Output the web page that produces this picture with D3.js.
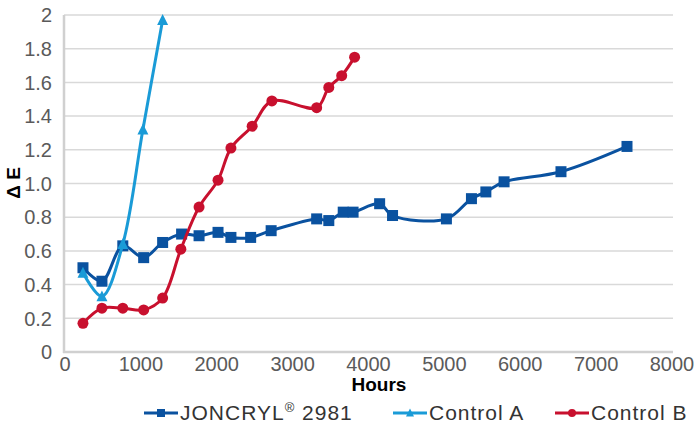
<!DOCTYPE html>
<html>
<head>
<meta charset="utf-8">
<script src="https://cdn.jsdelivr.net/npm/d3@7"></script>
<style>
  body { margin: 0; background: #fff; }
  svg { display: block; font-family: 'Liberation Sans', Arial, sans-serif; }
</style>
</head>
<body>
<div id="chart"></div>
<script>
const width = 696
const height = 427

const yTicks = [0, 0.2, 0.4, 0.6, 0.8, 1.0, 1.2, 1.4, 1.6, 1.8, 2]
const xTicks = [0, 1000, 2000, 3000, 4000, 5000, 6000, 7000, 8000]

const joncrylHours = [250, 500, 775, 1050, 1300, 1550, 1780, 2030, 2200, 2460, 2730, 3330, 3490, 3680, 3810, 4160, 4330, 5040, 5370, 5560, 5800, 6550, 7420]
const joncrylDE = [0.50, 0.42, 0.63, 0.56, 0.65, 0.70, 0.69, 0.71, 0.68, 0.68, 0.72, 0.79, 0.78, 0.83, 0.83, 0.88, 0.81, 0.79, 0.91, 0.95, 1.01, 1.07, 1.22]

const controlAHours = [250, 500, 775, 1040, 1300]
const controlADE = [0.47, 0.33, 0.64, 1.32, 1.97]

const controlBHours = [250, 500, 775, 1050, 1300, 1540, 1780, 2030, 2200, 2480, 2740, 3330, 3490, 3660, 3830]
const controlBDE = [0.17, 0.26, 0.26, 0.25, 0.32, 0.61, 0.86, 1.02, 1.21, 1.34, 1.49, 1.45, 1.57, 1.64, 1.75]

const series = [
  { name: 'JONCRYL', sup: '®', rest: ' 2981', hours: joncrylHours, values: joncrylDE, color: '#0a52a0', marker: 'square', legendX: 144 },
  { name: 'Control A', hours: controlAHours, values: controlADE, color: '#1a9bd7', marker: 'triangle', legendX: 393 },
  { name: 'Control B', hours: controlBHours, values: controlBDE, color: '#c8102e', marker: 'circle', legendX: 555 }
]

const x = d3.scaleLinear().domain([0, 8000]).range([64, 671])
const y = d3.scaleLinear().domain([0, 2]).range([352, 15])

const svg = d3.select('#chart')
  .append('svg')
  .attr('width', width)
  .attr('height', height)

// gridlines
svg.append('g')
  .selectAll('line')
  .data(yTicks.filter(d => d > 0))
  .enter()
  .append('line')
  .attr('x1', 64)
  .attr('x2', 673)
  .attr('y1', d => y(d))
  .attr('y2', d => y(d))
  .style('stroke', '#d9d9d9')
  .style('stroke-width', 1.5)

// axis lines
svg.append('line')
  .attr('x1', 64).attr('x2', 64)
  .attr('y1', y(2)).attr('y2', y(0) + 1)
  .style('stroke', '#d0d0d0').style('stroke-width', 2.5)
svg.append('line')
  .attr('x1', 63).attr('x2', 673)
  .attr('y1', y(0)).attr('y2', y(0))
  .style('stroke', '#d0d0d0').style('stroke-width', 2.5)

// tick labels
svg.append('g')
  .selectAll('text')
  .data(yTicks)
  .enter()
  .append('text')
  .attr('x', 52)
  .attr('y', d => y(d))
  .attr('dy', '0.36em')
  .attr('text-anchor', 'end')
  .style('font-size', '20px')
  .style('fill', '#5a5a5a')
  .text(d => (d === 0 || d === 2) ? d : d.toFixed(1))

svg.append('g')
  .selectAll('text')
  .data(xTicks)
  .enter()
  .append('text')
  .attr('x', d => x(d) + 1)
  .attr('y', 371)
  .attr('text-anchor', 'middle')
  .style('font-size', '20px')
  .style('fill', '#5a5a5a')
  .text(d => d)

// axis titles
svg.append('text')
  .attr('x', 379)
  .attr('y', 391)
  .attr('text-anchor', 'middle')
  .style('font-size', '19px')
  .style('font-weight', 'bold')
  .style('fill', '#000')
  .text('Hours')

svg.append('text')
  .attr('transform', 'translate(20,183) rotate(-90)')
  .attr('text-anchor', 'middle')
  .style('font-size', '19px')
  .style('font-weight', 'bold')
  .style('fill', '#000')
  .text('Δ E')

function drawMarker(g, type, cx, cy, size, color) {
  if (type === 'square') {
    g.append('rect')
      .attr('x', cx - size / 2).attr('y', cy - size / 2)
      .attr('width', size).attr('height', size)
      .style('fill', color)
  } else if (type === 'triangle') {
    const h = size * 0.9
    g.append('path')
      .attr('d', `M${cx},${cy - h / 2 - 1}L${cx + size / 2},${cy + h / 2}L${cx - size / 2},${cy + h / 2}Z`)
      .style('fill', color)
  } else {
    g.append('circle')
      .attr('cx', cx).attr('cy', cy).attr('r', size / 2)
      .style('fill', color)
  }
}

const line = d3.line()
  .x(d => x(d[0]))
  .y(d => y(d[1]))
  .curve(d3.curveCatmullRom.alpha(0.5))

series.forEach(s => {
  const pts = s.hours.map((h, i) => [h, s.values[i]])
  const g = svg.append('g')
  g.append('path')
    .datum(pts)
    .attr('d', line)
    .style('fill', 'none')
    .style('stroke', s.color)
    .style('stroke-width', 3)
  pts.forEach(p => drawMarker(g, s.marker, x(p[0]), y(p[1]), 11, s.color))
})

// legend
const legendY = 413
series.forEach(s => {
  const g = svg.append('g')
  g.append('line')
    .attr('x1', s.legendX).attr('x2', s.legendX + 34)
    .attr('y1', legendY).attr('y2', legendY)
    .style('stroke', s.color).style('stroke-width', 3)
  drawMarker(g, s.marker, s.legendX + 17, legendY, 8, s.color)
  const t = g.append('text')
    .attr('x', s.legendX + 36)
    .attr('y', legendY + 7)
    .style('font-size', '21px')
    .style('letter-spacing', '1px')
    .style('fill', '#333')
  t.append('tspan').text(s.name)
  if (s.sup) {
    t.append('tspan')
      .attr('dy', -8)
      .style('font-size', '13px')
      .text(s.sup)
    t.append('tspan')
      .attr('dy', 8)
      .text(s.rest)
  }
})
</script>
</body>
</html>
